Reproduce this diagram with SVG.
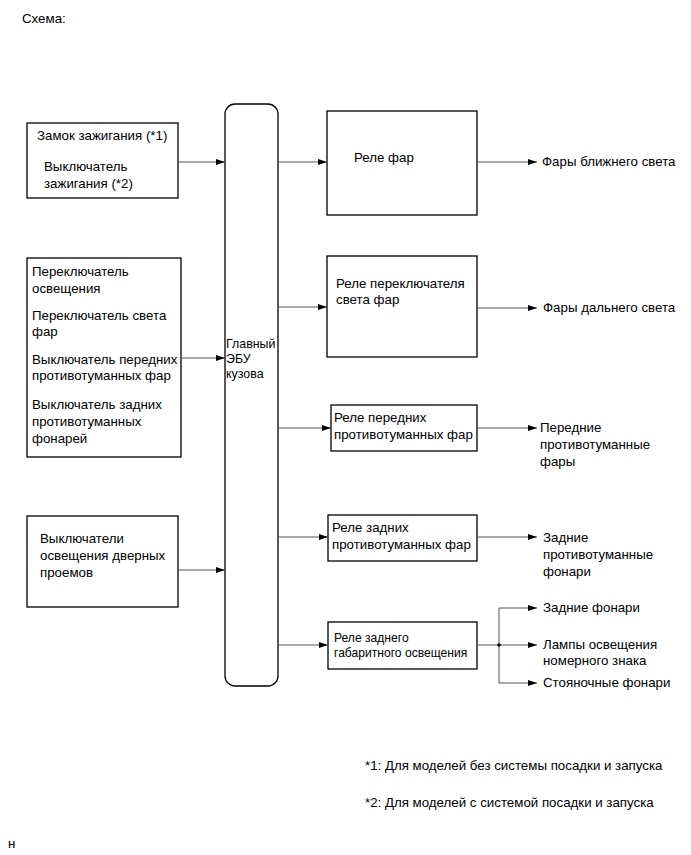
<svg xmlns="http://www.w3.org/2000/svg" width="691" height="855" viewBox="0 0 691 855">
<style>
text{font-family:"Liberation Sans",Arial,sans-serif;font-size:13.3px;fill:#000}
.s{font-size:12.1px}
.e{font-size:12.4px}
.box{fill:#fff;stroke:#000;stroke-width:1.3}
.ln{stroke:#555;stroke-width:1;fill:none}
</style>
<defs>
<marker id="ah" markerWidth="9" markerHeight="6" refX="9" refY="3" orient="auto" markerUnits="userSpaceOnUse">
<path d="M0,0 L9,3 L0,6 Z" fill="#000"/>
</marker>
</defs>
<rect width="691" height="855" fill="#fff"/>
<text x="22" y="23">Схема:</text>

<g id="ecu">
<rect class="box" x="225" y="104" width="53" height="582" rx="10" ry="10"/>
<text class="e" x="226" y="348">Главный</text>
<text class="e" x="226" y="363">ЭБУ</text>
<text class="e" x="226" y="378">кузова</text>
</g>

<g id="ignition">
<rect class="box" x="27" y="123" width="151" height="75"/>
<text x="37" y="140">Замок зажигания (*1)</text>
<text x="44" y="171">Выключатель</text>
<text x="44" y="188">зажигания (*2)</text>
</g>

<g id="switches">
<rect class="box" x="27" y="258" width="154" height="199"/>
<text x="32" y="276">Переключатель</text>
<text x="32" y="293">освещения</text>
<text x="32" y="320">Переключатель света</text>
<text x="32" y="336">фар</text>
<text x="32" y="364">Выключатель передних</text>
<text x="32" y="380">противотуманных фар</text>
<text x="32" y="409">Выключатель задних</text>
<text x="32" y="426">противотуманных</text>
<text x="32" y="443">фонарей</text>
</g>

<g id="door">
<rect class="box" x="27" y="516" width="151" height="91"/>
<text x="40" y="543">Выключатели</text>
<text x="40" y="560">освещения дверных</text>
<text x="40" y="577">проемов</text>
</g>

<g id="relay1">
<rect class="box" x="327" y="111" width="150" height="104"/>
<text x="354" y="162">Реле фар</text>
</g>
<g id="relay2">
<rect class="box" x="327" y="256" width="150" height="101"/>
<text x="336" y="288">Реле переключателя</text>
<text x="336" y="304">света фар</text>
</g>
<g id="relay3">
<rect class="box" x="331" y="405" width="146" height="46"/>
<text x="334" y="422">Реле передних</text>
<text x="334" y="439">противотуманных фар</text>
</g>
<g id="relay4">
<rect class="box" x="328" y="515" width="149" height="46"/>
<text x="332" y="532">Реле задних</text>
<text x="332" y="549">противотуманных фар</text>
</g>
<g id="relay5">
<rect class="box" x="328" y="622" width="149" height="47"/>
<text class="s" x="334" y="642">Реле заднего</text>
<text class="s" x="334" y="657">габаритного освещения</text>
</g>

<g id="out-low"><text x="542" y="166">Фары ближнего света</text></g>
<g id="out-high"><text x="543" y="312">Фары дальнего света</text></g>
<g id="out-ffog">
<text x="540" y="432">Передние</text>
<text x="540" y="449">противотуманные</text>
<text x="540" y="466">фары</text>
</g>
<g id="out-rfog">
<text x="543" y="542">Задние</text>
<text x="543" y="559">противотуманные</text>
<text x="543" y="576">фонари</text>
</g>
<g id="out-tail"><text x="543" y="612">Задние фонари</text></g>
<g id="out-plate">
<text x="543" y="649">Лампы освещения</text>
<text x="543" y="665">номерного знака</text>
</g>
<g id="out-park"><text x="543" y="687">Стояночные фонари</text></g>

<g id="connectors">
<line class="ln" x1="178" y1="162" x2="225" y2="162" marker-end="url(#ah)"/>
<line class="ln" x1="181" y1="358" x2="225" y2="358" marker-end="url(#ah)"/>
<line class="ln" x1="178" y1="570" x2="225" y2="570" marker-end="url(#ah)"/>
<line class="ln" x1="278" y1="162" x2="327" y2="162" marker-end="url(#ah)"/>
<line class="ln" x1="278" y1="307" x2="327" y2="307" marker-end="url(#ah)"/>
<line class="ln" x1="278" y1="428" x2="331" y2="428" marker-end="url(#ah)"/>
<line class="ln" x1="278" y1="537" x2="328" y2="537" marker-end="url(#ah)"/>
<line class="ln" x1="278" y1="645" x2="328" y2="645" marker-end="url(#ah)"/>
<line class="ln" x1="477" y1="162" x2="537" y2="162" marker-end="url(#ah)"/>
<line class="ln" x1="477" y1="308" x2="537" y2="308" marker-end="url(#ah)"/>
<line class="ln" x1="477" y1="428" x2="537" y2="428" marker-end="url(#ah)"/>
<line class="ln" x1="477" y1="537" x2="537" y2="537" marker-end="url(#ah)"/>
<line class="ln" x1="477" y1="645" x2="499" y2="645"/>
<line class="ln" x1="499" y1="608" x2="499" y2="683"/>
<line class="ln" x1="499" y1="608" x2="537" y2="608" marker-end="url(#ah)"/>
<line class="ln" x1="499" y1="645" x2="537" y2="645" marker-end="url(#ah)"/>
<line class="ln" x1="499" y1="683" x2="537" y2="683" marker-end="url(#ah)"/>
<circle cx="499" cy="645" r="1.8" fill="#000"/>
</g>

<text x="365" y="770">*1: Для моделей без системы посадки и запуска</text>
<text x="365" y="807">*2: Для моделей с системой посадки и запуска</text>
<text x="8" y="848">н</text>
</svg>
